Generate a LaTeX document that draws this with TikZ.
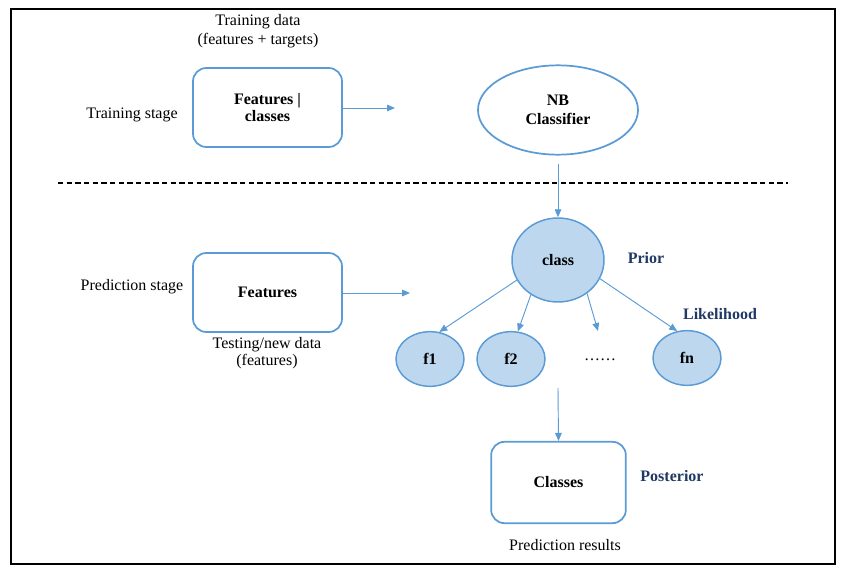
\documentclass[tikz,border=0pt,12pt]{standalone}
\usepackage{fontspec}
\setmainfont{Liberation Serif}
\usetikzlibrary{arrows.meta,shapes.geometric}
\definecolor{nbline}{HTML}{5B9BD5}
\definecolor{nbfill}{HTML}{BDD7EE}
\definecolor{nbnavy}{HTML}{203864}
\tikzset{>={Triangle[length=6pt,width=5pt]}}
\tikzset{
  databox/.style={draw=nbline, line width=1.3pt, rounded corners=10pt, align=center,
    font=\bfseries, minimum width=111.75pt, minimum height=59.25pt},
  blob/.style={ellipse, draw=nbline, line width=1.1pt, fill=nbfill, font=\bfseries, inner sep=0pt},
  flow/.style={->, nbline, line width=0.7pt},
  tag/.style={text=nbnavy, font=\bfseries}
}

\begin{document}
\begin{tikzpicture}[x=0.75pt,y=-0.75pt]
  \useasboundingbox (0,0) rectangle (858,578);
  \draw[line width=1.1pt] (11,9) rectangle (835,564);
  % training stage
  \node (trdata) at (258,31) [align=center] {Training data\\(features + targets)};
  \node (trstage) at (132,115) {Training stage};
  \node[databox] (trbox) at (267.5,107.5) {Features |\\[-2pt]classes};
  \node[ellipse, draw=nbline, line width=1.3pt, minimum width=120pt, minimum height=67pt,
    inner sep=0pt, align=center, font=\bfseries] (nb) at (558,110) {NB\\Classifier};
  \coordinate (trend) at (395,108);
  \draw[dashed, dash pattern=on 4pt off 2.5pt, line width=0.9pt] (58,183) -- (788,183);
  % prediction stage
  \node (prstage) at (132,287) {Prediction stage};
  \node[databox] (prbox) at (267.5,292.5) {Features};
  \node (prdata) at (267,353) [align=center] {Testing/new data\\[-2pt](features)};
  \coordinate (prend) at (410,293);
  \node[blob, minimum width=69pt, minimum height=63pt] (cls) at (558,260) {class};
  \node[tag] (prior) at (646,258) {Prior};
  \node[blob, minimum width=51pt, minimum height=41pt] (f1) at (430,359) {f1};
  \node[blob, minimum width=51pt, minimum height=41pt] (f2) at (511,359) {f2};
  \node (dots) at (600,360) {……};
  \node[blob, minimum width=51pt, minimum height=41pt] (fn) at (687,358) {fn};
  \node[tag] (lik) at (720,314) {Likelihood};
  \coordinate (dotstip) at (598,331);
  \coordinate (resstart) at (558,388);
  \node[databox, minimum width=101pt, minimum height=61pt] (res) at (558.5,482.5) {Classes};
  \node[tag] (post) at (672,476) {Posterior};
  \node (resdata) at (565,545) {Prediction results};
  \begin{scope}[flow]
    \draw (trbox.east |- trend) -- (trend);
    \draw[shorten <=6pt] (nb) -- (cls);
    \draw (prbox.east |- prend) -- (prend);
    \draw (cls.206) -- (f1.71);
    \draw (cls.232) -- (f2.76);
    \draw (cls.311) -- (dotstip);
    \draw (cls.336) -- (fn.110);
    \draw (resstart) -- (res.north);
  \end{scope}
\end{tikzpicture}
\end{document}
